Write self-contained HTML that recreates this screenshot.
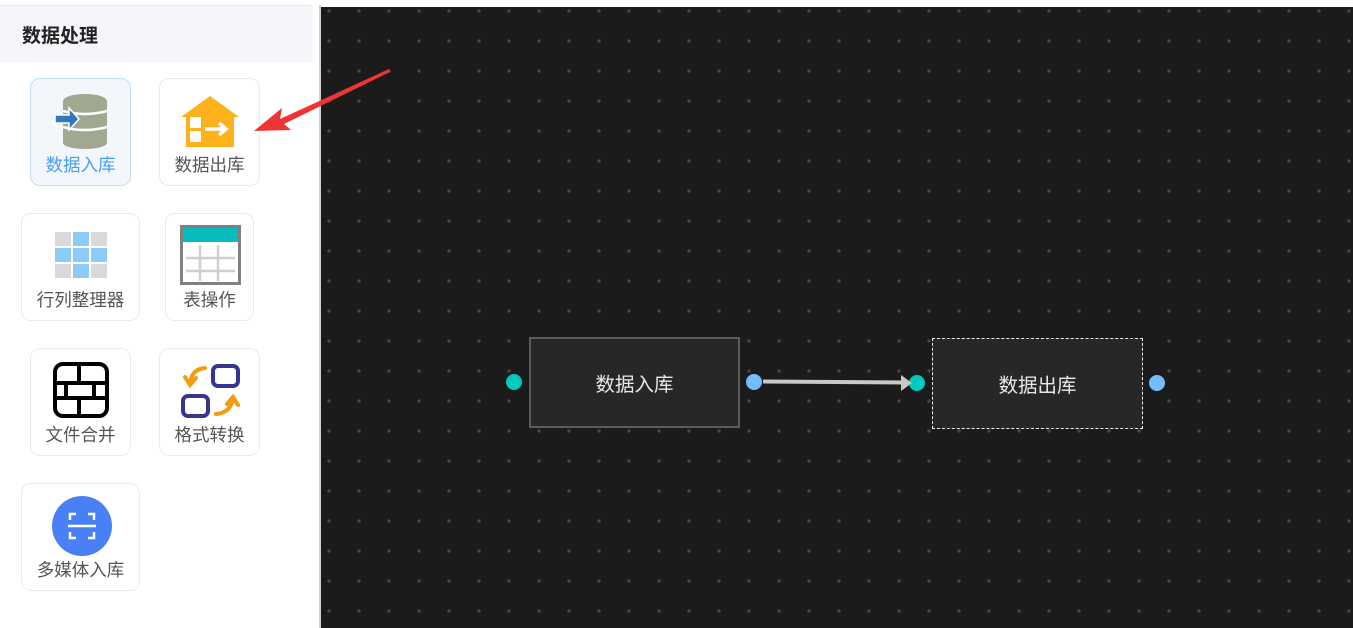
<!DOCTYPE html>
<html><head><meta charset="utf-8"><style>
*{margin:0;padding:0;box-sizing:border-box}
body{width:1353px;height:628px;overflow:hidden;background:#fff;position:relative;font-family:"Liberation Sans","Noto Sans CJK SC",sans-serif}
.abs{position:absolute}
.hdr{left:0;top:5px;width:313px;height:57px;background:#f5f6fa;border-top:1px solid #e6e8ee}
.hdr span{position:absolute;left:22px;top:15px;font-size:19px;font-weight:bold;color:#222}
.card{position:absolute;border:1px solid #e8ebf2;border-radius:10px;background:#fff}
.card .lb{position:absolute;left:0;right:0;text-align:center;font-size:17.5px;color:#555;white-space:nowrap}
.canvas{left:321px;top:7px;width:1032px;height:621px;background-color:#1b1b1b;
background-image:radial-gradient(circle,#444 1.5px,transparent 2px);background-size:30px 30px;background-position:-7px -11px}
.node{position:absolute;background:#272727;color:#e8e8e8;font-size:19.5px;display:flex;align-items:center;justify-content:center}
.port{position:absolute;width:16px;height:16px;border-radius:50%}
</style></head><body>
<div class="abs hdr"><span>数据处理</span></div>
<div class="abs" style="left:319px;top:5px;width:2px;height:623px;background:#d0d0d0"></div>

<div class="card" style="left:30px;top:78px;width:101px;height:108px;background:#f3f6fb;border-color:#bcdcf8">
<svg class="abs" style="left:20px;top:14px" width="60" height="56" viewBox="0 0 60 56">
<ellipse cx="34" cy="8" rx="22" ry="7" fill="#a1a892"/>
<rect x="12" y="8" width="44" height="42" fill="#a1a892"/>
<ellipse cx="34" cy="50" rx="22" ry="6" fill="#a1a892"/>
<path d="M12 18 Q34 24 56 18 M12 34 Q34 40 56 34" stroke="#fff" stroke-width="2.5" fill="none"/>
<path d="M4 22 H18 V15 L28 26 L18 37 V30 H4Z" fill="#2e78bc" stroke="#fff" stroke-width="1.5"/>
</svg>
<div class="lb" style="top:73px;color:#4a9ef0">数据入库</div></div>

<div class="card" style="left:159px;top:78px;width:101px;height:108px">
<svg class="abs" style="left:19px;top:14px" width="62" height="56" viewBox="0 0 62 56">
<path d="M31 3 L60 24 H55 V54 H7 V24 H2Z" fill="#fdb21c"/>
<rect x="11" y="24" width="11" height="11" fill="#fff"/><rect x="11" y="38" width="11" height="11" fill="#fff"/>
<path d="M26 36 H46 M40 30 L47 36 L40 42" stroke="#fff" stroke-width="3.5" fill="none"/>
</svg>
<div class="lb" style="top:73px">数据出库</div></div>

<div class="card" style="left:21px;top:213px;width:119px;height:108px">
<svg class="abs" style="left:33px;top:18px" width="54" height="46" viewBox="0 0 54 46">
<g fill="#d9d9d9"><rect x="0" y="0" width="16" height="14"/><rect x="36" y="0" width="16" height="14"/><rect x="0" y="32" width="16" height="14"/><rect x="36" y="32" width="16" height="14"/></g>
<g fill="#8ccbfa"><rect x="18" y="0" width="16" height="14"/><rect x="0" y="16" width="16" height="14"/><rect x="18" y="16" width="16" height="14"/><rect x="36" y="16" width="16" height="14"/><rect x="18" y="32" width="16" height="14"/></g>
</svg>
<div class="lb" style="top:73px">行列整理器</div></div>

<div class="card" style="left:165px;top:213px;width:89px;height:108px">
<svg class="abs" style="left:14px;top:11px" width="62" height="60" viewBox="0 0 62 60">
<rect x="1.5" y="1.5" width="58" height="57" fill="#fff" stroke="#808080" stroke-width="3"/>
<rect x="3" y="3" width="55" height="14" fill="#06bdbd"/>
<path d="M6 33 H55 M6 46 H55 M20 20 V56 M38 20 V56" stroke="#cfcfcf" stroke-width="2.5"/>
</svg>
<div class="lb" style="top:73px">表操作</div></div>

<div class="card" style="left:30px;top:348px;width:101px;height:108px">
<svg class="abs" style="left:22px;top:13px" width="56" height="56" viewBox="0 0 56 56">
<rect x="2" y="2" width="52" height="52" rx="8" fill="#fff" stroke="#000" stroke-width="4"/>
<path d="M2 21 H54 M2 36 H54 M26 2 V21 M13 21 V36 M41 21 V36 M26 36 V54" stroke="#000" stroke-width="4"/>
</svg>
<div class="lb" style="top:73px">文件合并</div></div>

<div class="card" style="left:159px;top:348px;width:101px;height:108px">
<svg class="abs" style="left:20px;top:14px" width="62" height="56" viewBox="0 0 62 56">
<rect x="33" y="3" width="25" height="20" rx="5" fill="none" stroke="#363591" stroke-width="4"/>
<rect x="3" y="33" width="25" height="20" rx="5" fill="none" stroke="#363591" stroke-width="4"/>
<path d="M25 5 Q12 6 10 20 M5 14 L10 22 L16 15" stroke="#f59c0e" stroke-width="4" fill="none" stroke-linecap="round"/>
<path d="M36 51 Q50 50 53 36 M47 41 L53 34 L58 42" stroke="#f59c0e" stroke-width="4" fill="none" stroke-linecap="round"/>
</svg>
<div class="lb" style="top:73px">格式转换</div></div>

<div class="card" style="left:21px;top:483px;width:119px;height:108px">
<svg class="abs" style="left:29px;top:11px" width="62" height="62" viewBox="0 0 62 62">
<circle cx="31" cy="31" r="30" fill="#4a80f5"/>
<path d="M19 25 V19 H25 M37 19 H43 V25 M19 37 V43 H25 M37 43 H43 V37 M17 31 H45" stroke="#fff" stroke-width="2.5" fill="none"/>
</svg>
<div class="lb" style="top:73px">多媒体入库</div></div>

<div class="abs canvas"></div>
<div class="node" style="left:529px;top:337px;width:211px;height:91px;border:2px solid #5c5c5c">数据入库</div>
<div class="node" style="left:932px;top:338px;width:211px;height:91px;border:1.5px dashed #f0f0f0">数据出库</div>
<div class="port" style="left:506px;top:374px;background:#00c9c0"></div>
<div class="port" style="left:746px;top:374px;background:#74bdfd"></div>
<div class="port" style="left:909px;top:375px;background:#00c9c0"></div>
<div class="port" style="left:1149px;top:375px;background:#74bdfd"></div>
<svg class="abs" style="left:0;top:0" width="1353" height="628">
<path d="M763 381.5 L904 382.5" stroke="#c8c8c8" stroke-width="4"/>
<path d="M901 375 L912 383 L901 391Z" fill="#c8c8c8"/>
<path d="M389 69 L280 119 L282 108 L254 131 L291 130 L284 124 L390 72 Z" fill="#ee3535"/>
</svg>
</body></html>
